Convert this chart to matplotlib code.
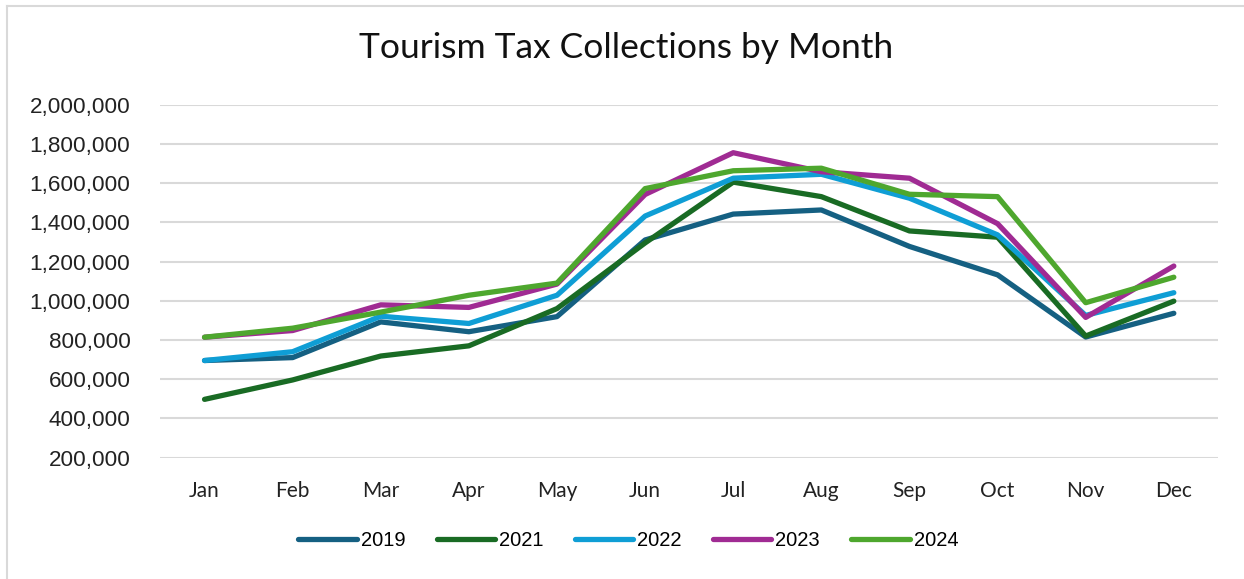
import matplotlib
matplotlib.use("Agg")
import matplotlib.pyplot as plt
from matplotlib.ticker import FuncFormatter
from matplotlib.lines import Line2D

# Data
months = ["Jan", "Feb", "Mar", "Apr", "May", "Jun",
          "Jul", "Aug", "Sep", "Oct", "Nov", "Dec"]
years = ["2019", "2021", "2022", "2023", "2024"]

y2019 = [695000, 710000, 892000, 842000, 919000, 1310000,
         1442000, 1463000, 1277000, 1132000, 815000, 936000]
y2021 = [497000, 596000, 718000, 770000, 960000, 1295000,
         1605000, 1531000, 1356000, 1324000, 820000, 998000]
y2022 = [695000, 740000, 921000, 884000, 1028000, 1432000,
         1625000, 1645000, 1523000, 1336000, 925000, 1041000]
y2023 = [814000, 848000, 979000, 966000, 1085000, 1542000,
         1755000, 1658000, 1625000, 1393000, 915000, 1177000]
y2024 = [814000, 860000, 942000, 1028000, 1090000, 1572000,
         1663000, 1676000, 1543000, 1531000, 990000, 1120000]

series = [y2019, y2021, y2022, y2023, y2024]
colors = ["#156082", "#196B24", "#0F9ED5", "#A02B93", "#4EA72E"]

fig = plt.figure(figsize=(12.44, 5.79), dpi=100)
ax = fig.add_axes([0.129, 0.2097, 0.850, 0.6095])

x = list(range(len(months)))
for vals, c, lab in zip(series, colors, years):
    ax.plot(x, vals, color=c, linewidth=3.8, label=lab,
            solid_capstyle="round", solid_joinstyle="round")

ax.set_xlim(-0.5, len(months) - 0.5)
ax.set_ylim(200000, 2000000)
ax.set_yticks(range(200000, 2000001, 200000))
ax.yaxis.set_major_formatter(FuncFormatter(lambda v, p: f"{int(v):,}"))
ax.set_xticks(x)
ax.set_xticklabels(months, fontsize=15, family=["Lato", "DejaVu Sans"])
for t in ax.get_yticklabels():
    t.set_fontsize(16.2)
    t.set_family(["Liberation Sans", "DejaVu Sans"])

ax.grid(axis="y", color="#D9D9D9", linewidth=1.5)
ax.set_axisbelow(True)
ax.tick_params(length=0, colors="#222222")
ax.tick_params(axis="x", pad=17)
ax.tick_params(axis="y", pad=21.6)
for s in ax.spines.values():
    s.set_visible(False)

fig.text(0.503, 0.917, "Tourism Tax Collections by Month", ha="center", va="center",
         fontsize=25.5, family=["Lato", "DejaVu Sans"], color="#111111")

handles = [Line2D([0], [0], color=c, linewidth=3.8, solid_capstyle="round")
           for c in colors]
fig.legend(handles, years, loc="center", bbox_to_anchor=(0.505, 0.066), ncol=5,
           frameon=False, handlelength=2.9, handletextpad=0.2, columnspacing=1.55,
           prop={"family": ["Liberation Sans", "DejaVu Sans"], "size": 14.5})

# light chart border (left and top visible in the crop)
fig.add_artist(Line2D([7 / 1244, 7 / 1244], [0, 1 - 6 / 579], color="#D9D9D9",
                      linewidth=1.5, transform=fig.transFigure))
fig.add_artist(Line2D([7 / 1244, 1], [1 - 6 / 579, 1 - 6 / 579], color="#D9D9D9",
                      linewidth=1.5, transform=fig.transFigure))

fig.savefig("out.png", dpi=100, facecolor="white")
